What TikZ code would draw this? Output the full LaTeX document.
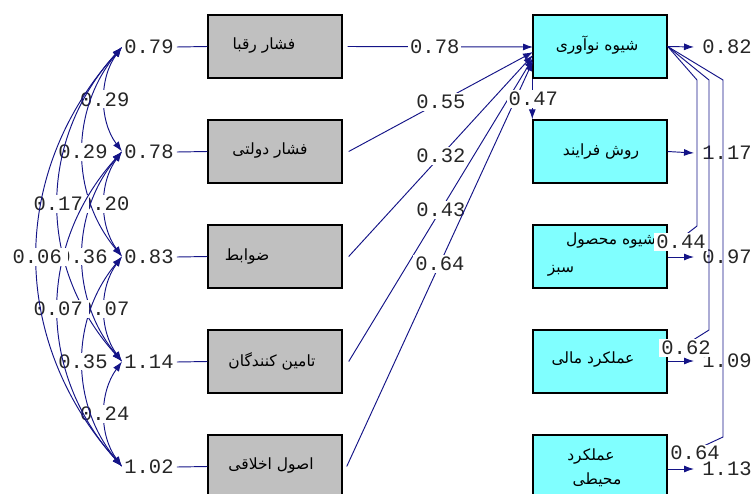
\documentclass[tikz,border=0pt]{standalone}
\usepackage{fontspec}
\newfontfamily\arabicfont[Script=Arabic]{DejaVu Sans}
\newfontfamily\numfont{Liberation Mono}
\TeXXeTstate=1
\usetikzlibrary{arrows.meta}
\definecolor{navy}{RGB}{20,20,135}
\definecolor{boxgray}{RGB}{192,192,192}
\definecolor{boxcyan}{RGB}{128,255,255}
\tikzset{
  gbox/.style={draw=black, line width=1.4pt, fill=boxgray, minimum width=134pt, minimum height=63pt, inner sep=0pt},
  cbox/.style={draw=black, line width=1.4pt, fill=boxcyan, minimum width=134pt, minimum height=63pt, inner sep=0pt},
  num/.style={font=\numfont\fontsize{20.5}{20.5}\selectfont, inner sep=0pt, text=black!85},
  numw/.style={num, fill=white, inner sep=2pt},
  numwide/.style={numw, inner xsep=6.5pt},
  ptxt/.style={font=\arabicfont\fontsize{15.5}{17}\selectfont, inner sep=0pt},
  conn/.style={draw=navy, line width=0.95pt},
  arr/.style={conn, -{Latex[length=10pt,width=7pt]}},
  darr/.style={conn, {Latex[length=10pt,width=7pt]}-{Latex[length=10pt,width=7pt]}},
}
\begin{document}
\begin{tikzpicture}[x=1pt,y=-1pt]
\useasboundingbox (0,0) rectangle (755,493);
\clip (0,0) rectangle (755,493);
% boxes
\node[gbox] (L1) at (275,46.5) {};
\node[gbox] (L2) at (275,151.5) {};
\node[gbox] (L3) at (275,256.5) {};
\node[gbox] (L4) at (275,361.5) {};
\node[gbox] (L5) at (275,466.5) {};
\node[cbox] (R1) at (600,46.5) {};
\node[cbox] (R2) at (600,151.5) {};
\node[cbox] (R3) at (600,256.5) {};
\node[cbox] (R4) at (600,361.5) {};
\node[cbox] (R5) at (600,466.5) {};
% box texts
\node[ptxt] (tL1) at (264,46) {\beginR فشار رقبا\endR};
\node[ptxt] (tL2) at (270,150) {\beginR فشار دولتی\endR};
\node[ptxt] (tL3) at (247,256) {\beginR ضوابط\endR};
\node[ptxt] (tL4) at (272,361) {\beginR تامین کنندگان\endR};
\node[ptxt] (tL5) at (271,465) {\beginR اصول اخلاقی\endR};
\node[ptxt] (tR1) at (597,45) {\beginR شیوه نوآوری\endR};
\node[ptxt] (tR2) at (601,152) {\beginR روش فرایند\endR};
\node[ptxt,anchor=east] (tR3a) at (656,240) {\beginR شیوه محصول\endR};
\node[ptxt] (tR3b) at (561,271) {\beginR سبز\endR};
\node[ptxt] (tR4) at (593,359) {\beginR عملکرد مالی\endR};
\node[ptxt] (tR5a) at (591,456) {\beginR عملکرد\endR};
\node[ptxt] (tR5b) at (597,480) {\beginR محیطی\endR};
% left error labels
\node[num] (e1) at (149,47) {0.79};
\node[num] (e2) at (149,152) {0.78};
\node[num] (e3) at (149,257) {0.83};
\node[num] (e4) at (149,362) {1.14};
\node[num] (e5) at (149,467) {1.02};
\foreach \i in {1,...,5}{\draw[conn] (e\i.east) ++(3pt,0) -- (L\i.west);}
% correlation end points
\coordinate (E1) at (122,47);
\coordinate (E2) at (122,151.5);
\coordinate (E3) at (122,256.5);
\coordinate (E4) at (122,361.5);
\coordinate (E5) at (122,466.5);
% adjacent
\draw[darr] (E1) .. controls (99,78) and (99,120.5) .. (E2) node[numw,pos=0.5] (c12) {0.29};
\draw[darr] (E2) .. controls (99,183) and (99,225) .. (E3) node[numw,pos=0.5] (c23) {0.20};
\draw[darr] (E3) .. controls (99,288) and (99,330) .. (E4) node[numw,pos=0.5] (c34) {0.07};
\draw[darr] (E4) .. controls (99,393) and (99,435) .. (E5) node[numw,pos=0.5] (c45) {0.24};
% distance 2
\draw[darr] (E2) .. controls (70,214) and (70,299) .. (E4) node[numw,pos=0.5] (c24) {0.36};
\draw[darr] (E1) .. controls (70,110) and (70,194) .. (E3) node[numw,pos=0.5] (c13) {0.29};
\draw[darr] (E3) .. controls (70,319) and (70,404) .. (E5) node[numw,pos=0.5] (c35) {0.35};
% distance 3
\draw[darr] (E1) .. controls (37,141) and (37,267) .. (E4) node[numwide,pos=0.5] (c14) {0.17};
\draw[darr] (E2) .. controls (37,246) and (37,372) .. (E5) node[numwide,pos=0.5] (c25) {0.07};
% distance 4
\draw[darr] (E1) .. controls (9,173) and (9,340) .. (E5) node[numwide,pos=0.5] (c15) {0.06};
% structural paths to R1
\coordinate (T1) at (533,47);
\coordinate (T2) at (533,52);
\coordinate (T3) at (533,55);
\coordinate (T4) at (533,58);
\coordinate (T5) at (533,61);
\draw[arr] (L1.east) ++(5pt,0) -- (T1) node[numw,pos=0.47] (p1) {0.78};
\draw[arr] (L2.east) ++(6pt,0) -- (T2) node[numw,pos=0.5] (p2) {0.55};
\draw[arr] (L3.east) ++(6pt,0) -- (T3) node[numw,pos=0.5] (p3) {0.32};
\draw[arr] (L4.east) ++(6pt,0) -- (T4) node[numw,pos=0.5] (p4) {0.43};
\draw[arr] (L5.east) ++(4pt,0) -- (T5) node[numw,pos=0.5] (p5) {0.64};
% R1 -> R2
\draw[arr] (R1.south west) -- (R2.north west) node[numw,pos=0.5,xshift=1pt] (p12) {0.47};
% right error labels
\node[num] (r1) at (727,47) {0.82};
\node[num] (r2) at (727,153) {1.17};
\node[num] (r3) at (727,257) {0.97};
\node[num] (r4) at (727,361) {1.09};
\node[num] (r5) at (727,469) {1.13};
\draw[arr] (R1.east) -- (694,47);
\draw[arr] (R2.east) -- (694,153);
\draw[arr] (R3.east |- r3) -- (694,257);
\draw[arr] (R4.east |- r4) -- (694,361);
\draw[arr] (R5.east |- r5) -- (694,469);
% R1 -> R3, R4, R5
\coordinate (U3) at (670,247);
\coordinate (U4) at (674,352);
\coordinate (U5) at (680,457);
\draw[arr] (R1.east) -- (697,80) -- (697,226) -- (U3);
\draw[arr] (R1.east) -- (709,80) -- (709,330) -- (U4);
\draw[arr] (R1.east) -- (723,80) -- (723,437) -- (U5);
\node[numw] (p13) at (681,242) {0.44};
\node[numw] (p14) at (686,348) {0.62};
\node[numw,inner ysep=1pt] (p15) at (695,453) {0.64};
\end{tikzpicture}
\end{document}
